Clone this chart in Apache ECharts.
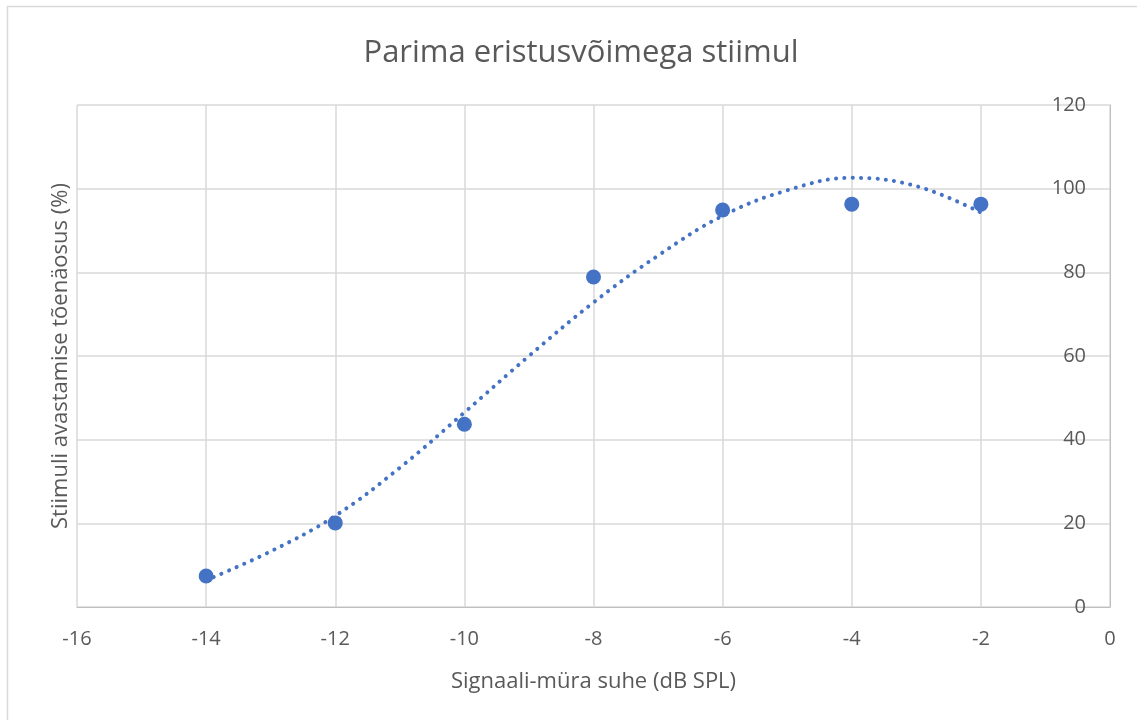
<!DOCTYPE html>
<html>
<head>
<meta charset="utf-8">
<script src="https://cdn.jsdelivr.net/npm/echarts@6/dist/echarts.min.js"></script>
<style>
html,body{margin:0;padding:0;background:#fff;}
#c{width:1137px;height:720px;}
</style>
</head>
<body>
<div id="c"></div>
<script>
// Data
const snrValues = [-14, -12, -10, -8, -6, -4, -2];
const detectionPct = [7.4, 20.1, 43.7, 78.9, 94.9, 96.3, 96.3];
// Trendline (polynomial fit drawn in reference)
const trendX = [-14, -13, -12, -11, -10, -9, -8, -7, -6, -5, -4, -3, -2];
const trendY = [6.4, 13.3, 21.8, 33.3, 46.5, 60.0, 72.8, 84.0, 93.5, 99.6, 102.6, 100.6, 94.3];

const titleText = 'Parima eristusvõimega stiimul';
const xTitle = 'Signaali-müra suhe (dB SPL)';
const yTitle = 'Stiimuli avastamise tõenäosus (%)';

const FONT = '"Open Sans", sans-serif';
const TXT = '#595959';
const color = '#4472C4';

const chart = echarts.init(document.getElementById('c'));
chart.setOption({
  animation: false,
  textStyle: { fontFamily: FONT },
  title: {
    text: titleText,
    left: 576,
    top: 33,
    textAlign: 'center',
    textStyle: { fontFamily: FONT, fontSize: 31, fontWeight: 'normal', color: TXT }
  },
  graphic: [{
    type: 'rect',
    shape: { x: 7.5, y: 6.5, width: 1300, height: 900 },
    style: { fill: 'none', stroke: '#d9d9d9', lineWidth: 1.5 },
    silent: true
  }],
  grid: { left: 77, right: 27, top: 105, bottom: 113, containLabel: false },
  xAxis: {
    type: 'value',
    min: -16, max: 0, interval: 2,
    name: xTitle,
    nameLocation: 'middle',
    nameGap: 64,
    nameTextStyle: { fontFamily: FONT, fontSize: 22, color: TXT },
    axisLine: { show: true, onZero: false, lineStyle: { color: '#bfbfbf', width: 1 } },
    axisTick: { show: false },
    axisLabel: { fontFamily: FONT, fontSize: 20, color: TXT, margin: 22 },
    splitLine: { show: true, lineStyle: { color: '#d9d9d9', width: 1.5 } }
  },
  yAxis: [{
    type: 'value',
    position: 'right',
    min: 0, max: 120, interval: 20,
    axisLine: { show: true, lineStyle: { color: '#bfbfbf', width: 1 } },
    axisTick: { show: false },
    axisLabel: { inside: true, fontFamily: FONT, fontSize: 20, color: TXT, margin: 24, align: 'right' },
    splitLine: { show: true, lineStyle: { color: '#d9d9d9', width: 1.5 } }
  }, {
    type: 'value',
    position: 'left',
    min: 0, max: 120, interval: 20,
    name: yTitle,
    nameLocation: 'middle',
    nameGap: 5,
    nameTextStyle: { fontFamily: FONT, fontSize: 22, color: TXT },
    axisLine: { show: false },
    axisTick: { show: false },
    axisLabel: { show: false },
    splitLine: { show: false }
  }],
  series: [{
    type: 'scatter',
    data: snrValues.map((x, i) => [x, detectionPct[i]]),
    symbol: 'circle',
    symbolSize: 15,
    itemStyle: { color: color, opacity: 1 },
    z: 3
  }, {
    type: 'line',
    data: trendX.map((x, i) => [x, trendY[i]]),
    smooth: 0.4,
    showSymbol: false,
    symbol: 'none',
    lineStyle: { color: color, width: 4, type: [0.1, 8.2], cap: 'round' },
    z: 4
  }]
});
</script>
</body>
</html>
